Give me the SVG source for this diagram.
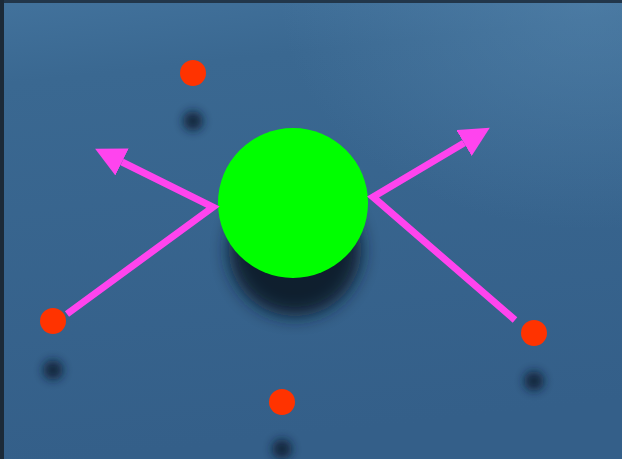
<svg xmlns="http://www.w3.org/2000/svg" width="622" height="459" viewBox="0 0 622 459">
  <defs>
    <linearGradient id="bg" x1="0" y1="0" x2="0.15" y2="1">
      <stop offset="0" stop-color="#42729c"/>
      <stop offset="0.18" stop-color="#3a6891"/>
      <stop offset="1" stop-color="#345f89"/>
    </linearGradient>
    <radialGradient id="glow" cx="0.95" cy="0" r="0.5">
      <stop offset="0" stop-color="#5b8cb4" stop-opacity="0.5"/>
      <stop offset="1" stop-color="#5b8cb4" stop-opacity="0"/>
    </radialGradient>
    <filter id="soft" x="-100%" y="-100%" width="300%" height="300%">
      <feGaussianBlur stdDeviation="5"/>
    </filter>
    <filter id="softBig" x="-50%" y="-50%" width="200%" height="200%">
      <feGaussianBlur stdDeviation="9"/>
    </filter>
    <marker id="head" viewBox="0 0 30 30" refX="0" refY="15" markerWidth="30" markerHeight="30" orient="auto" markerUnits="userSpaceOnUse">
      <path d="M0,0 L30,15 L0,30 Z" fill="#ff44ee"/>
    </marker>
    <style>
      .dot { fill: #ff3300; }
      .shade { fill: #0e1f30; opacity: 0.85; filter: url(#soft); }
      .arrow { fill: none; stroke: #ff44ee; stroke-width: 7; stroke-linejoin: miter; }
    </style>
  </defs>

  <!-- backdrop -->
  <rect width="622" height="459" fill="url(#bg)"/>
  <rect width="622" height="459" fill="url(#glow)"/>
  <rect x="0" y="0" width="622" height="3" fill="#22364a"/>
  <rect x="0" y="0" width="4" height="459" fill="#1c2a38"/>

  <!-- shadows cast on the floor -->
  <g id="shadows">
    <circle cx="295" cy="250" r="66" fill="#0f1d2c" opacity="0.95" filter="url(#softBig)"/>
    <circle class="shade" cx="193" cy="121" r="10"/>
    <circle class="shade" cx="53" cy="370" r="10"/>
    <circle class="shade" cx="534" cy="381" r="10"/>
    <circle class="shade" cx="282" cy="449" r="10"/>
  </g>

  <!-- central sphere -->
  <g id="ball">
    <circle cx="293" cy="203" r="75" fill="#00ff00"/>
  </g>

  <!-- small points -->
  <g id="dot-top"><circle class="dot" cx="193" cy="73" r="13"/></g>
  <g id="dot-left"><circle class="dot" cx="53" cy="321" r="13"/></g>
  <g id="dot-right"><circle class="dot" cx="534" cy="333" r="13"/></g>
  <g id="dot-bottom"><circle class="dot" cx="282" cy="402" r="13"/></g>

  <!-- incoming and reflected rays -->
  <g id="connectors">
    <polyline class="arrow" points="67,314 213,207 122,162" marker-end="url(#head)"/>
    <polyline class="arrow" points="515,320 373,197 464,143" marker-end="url(#head)"/>
  </g>
</svg>
